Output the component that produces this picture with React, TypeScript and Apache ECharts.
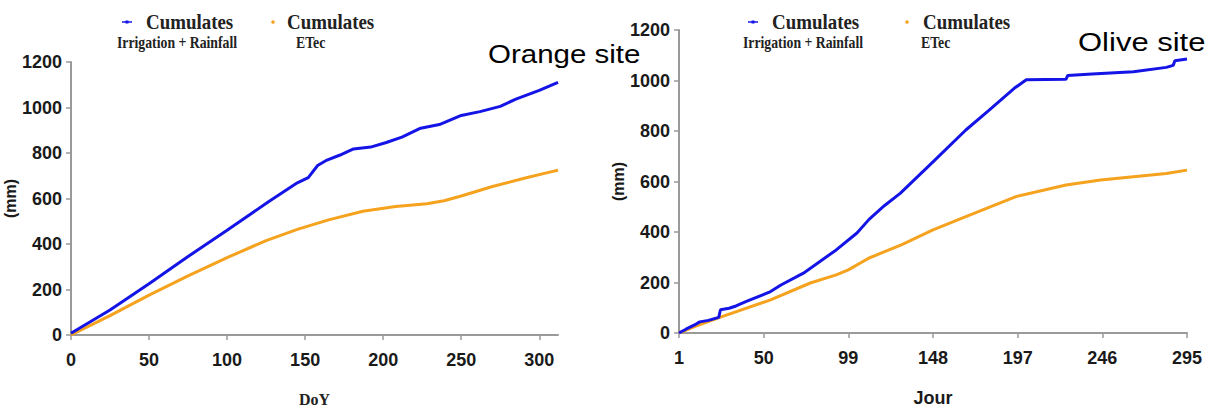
import React, { useEffect, useRef } from "react";
import * as echarts from "echarts";

// ---- Orange site (left) ----
const orangeIrrDays = [0, 25, 50, 75, 100, 127, 145, 152, 158, 164, 172, 181, 192, 202, 212, 224, 236, 250, 262, 275, 285, 300, 312];
const orangeIrrVals = [8, 110, 225, 345, 460, 588, 669, 692, 745, 769, 790, 818, 826, 846, 870, 909, 925, 965, 982, 1005, 1037, 1075, 1110];
const orangeEtcDays = [0, 25, 50, 75, 100, 125, 145, 165, 187, 208, 228, 239, 250, 270, 291, 308, 312];
const orangeEtcVals = [0, 85, 175, 260, 340, 415, 464, 506, 544, 565, 577, 590, 611, 653, 690, 718, 724];
const orangeTicks = [0, 50, 100, 150, 200, 250, 300];

// ---- Olive site (right) ----
const oliveIrrDays = [1, 5, 10, 13, 18, 24, 25, 30, 34, 40, 54, 60, 73, 92, 104, 111, 120, 129, 148, 167, 180, 195, 202, 225, 226, 240, 264, 283, 287, 288, 295];
const oliveIrrVals = [0, 15, 32, 44, 50, 62, 92, 98, 107, 125, 164, 190, 237, 329, 396, 450, 505, 553, 678, 804, 880, 969, 1003, 1005, 1020, 1026, 1035, 1052, 1060, 1078, 1085];
const oliveEtcDays = [1, 10, 25, 54, 77, 92, 99, 111, 130, 148, 167, 196, 225, 245, 264, 283, 295];
const oliveEtcVals = [0, 25, 63, 131, 198, 230, 250, 297, 350, 408, 461, 540, 586, 606, 619, 632, 645];
const oliveTicks = [1, 50, 99, 148, 197, 246, 295];

const BLUE = "#1414e6";
const ORANGE = "#f5a21e";
const AXIS = "#9a9a9a";
const SANS = '"Liberation Sans Narrow", "Liberation Sans", Arial, sans-serif';
const SERIF = '"Liberation Serif", "Times New Roman", serif';

const zip = (xs: number[], ys: number[]) => xs.map((x, i) => [x, ys[i]]);

function legend(x0: number, orangeX: number, orangeTextX: number, etecX: number) {
  const big = (x: number, text: string) => ({
    type: "text", x, y: 21, scaleX: 0.86,
    style: { text, font: `bold 22px ${SERIF}`, fill: "#222", textAlign: "left", textVerticalAlign: "middle" },
  });
  const small = (x: number, text: string) => ({
    type: "text", x, y: 43, scaleX: 0.86,
    style: { text, font: `bold 16px ${SERIF}`, fill: "#222", textAlign: "left", textVerticalAlign: "middle" },
  });
  return [
    { type: "line", shape: { x1: x0 - 5, y1: 22, x2: x0 + 5, y2: 22 }, style: { stroke: BLUE, lineWidth: 1.5 } },
    { type: "rect", shape: { x: x0 - 1.5, y: 20.5, width: 3, height: 3 }, style: { fill: BLUE } },
    big(x0 + 19, "Cumulates"),
    small(x0 - 10, "Irrigation + Rainfall"),
    { type: "circle", shape: { cx: orangeX, cy: 22, r: 1.8 }, style: { fill: ORANGE } },
    big(orangeTextX, "Cumulates"),
    small(etecX, "ETec"),
  ];
}

export default function App() {
  const ref = useRef<HTMLDivElement>(null);
  useEffect(() => {
    if (!ref.current) return;
    const chart = echarts.init(ref.current, null, { renderer: "svg" });
    const axisLabel = { fontFamily: SANS, fontWeight: "bold", fontSize: 18, color: "#1a1a1a" };
    const nameStyle = { fontFamily: SANS, fontWeight: "bold", fontSize: 16, color: "#1a1a1a" };
    const lineAxis = { show: true, lineStyle: { color: AXIS, width: 2 } };
    const tick = { show: true, length: 5, lineStyle: { color: AXIS, width: 1.5 } };
    chart.setOption({
      animation: false,
      backgroundColor: "#ffffff",
      grid: [
        { left: 71, top: 62, width: 487, height: 287 },
        { left: 679, top: 30, width: 508, height: 303 },
      ],
      xAxis: [
        {
          type: "value", gridIndex: 0, min: 0, max: 312,
          axisLine: lineAxis, axisTick: { ...tick, customValues: orangeTicks },
          axisLabel: { ...axisLabel, margin: 16, customValues: orangeTicks, formatter: (v: number) => String(v) },
          splitLine: { show: false },
          name: "DoY", nameLocation: "middle", nameGap: 56,
          nameTextStyle: { fontFamily: SERIF, fontWeight: "bold", fontSize: 16, color: "#222" },
        },
        {
          type: "value", gridIndex: 1, min: 1, max: 295,
          axisLine: lineAxis, axisTick: { ...tick, customValues: oliveTicks },
          axisLabel: { ...axisLabel, margin: 16, customValues: oliveTicks, formatter: (v: number) => String(v) },
          splitLine: { show: false },
          name: "Jour", nameLocation: "middle", nameGap: 56, nameTextStyle: { ...nameStyle, fontSize: 18 },
        },
      ],
      yAxis: [
        {
          type: "value", gridIndex: 0, min: 0, max: 1200, interval: 200,
          axisLine: lineAxis, axisTick: tick,
          axisLabel: { ...axisLabel, margin: 9, formatter: (v: number) => String(v) },
          splitLine: { show: false },
          name: "(mm)", nameLocation: "middle", nameGap: 53, nameTextStyle: nameStyle,
        },
        {
          type: "value", gridIndex: 1, min: 0, max: 1200, interval: 200,
          axisLine: lineAxis, axisTick: tick,
          axisLabel: { ...axisLabel, margin: 9, formatter: (v: number) => String(v) },
          splitLine: { show: false },
          name: "(mm)", nameLocation: "middle", nameGap: 49, nameTextStyle: nameStyle,
        },
      ],
      series: [
        { type: "line", xAxisIndex: 0, yAxisIndex: 0, data: zip(orangeEtcDays, orangeEtcVals), showSymbol: false, lineStyle: { color: ORANGE, width: 3 } },
        { type: "line", xAxisIndex: 0, yAxisIndex: 0, data: zip(orangeIrrDays, orangeIrrVals), showSymbol: false, lineStyle: { color: BLUE, width: 3 } },
        { type: "line", xAxisIndex: 1, yAxisIndex: 1, data: zip(oliveEtcDays, oliveEtcVals), showSymbol: false, lineStyle: { color: ORANGE, width: 3 } },
        { type: "line", xAxisIndex: 1, yAxisIndex: 1, data: zip(oliveIrrDays, oliveIrrVals), showSymbol: false, lineStyle: { color: BLUE, width: 3 } },
      ],
      graphic: [
        ...legend(127, 273, 287, 296),
        ...legend(753, 907, 923, 921),
        {
          type: "text", x: 488, y: 54, scaleX: 1.18,
          style: { text: "Orange site", font: `25px "Liberation Sans", Arial, sans-serif`, fill: "#000", textAlign: "left", textVerticalAlign: "middle" },
        },
        {
          type: "text", x: 1078, y: 43, scaleX: 1.24,
          style: { text: "Olive site", font: `25px "Liberation Sans", Arial, sans-serif`, fill: "#000", textAlign: "left", textVerticalAlign: "middle" },
        },
      ],
    });
    return () => chart.dispose();
  }, []);
  return <div ref={ref} style={{ position: "fixed", left: 0, top: 0, width: 1217, height: 412, background: "#fff" }} />;
}
